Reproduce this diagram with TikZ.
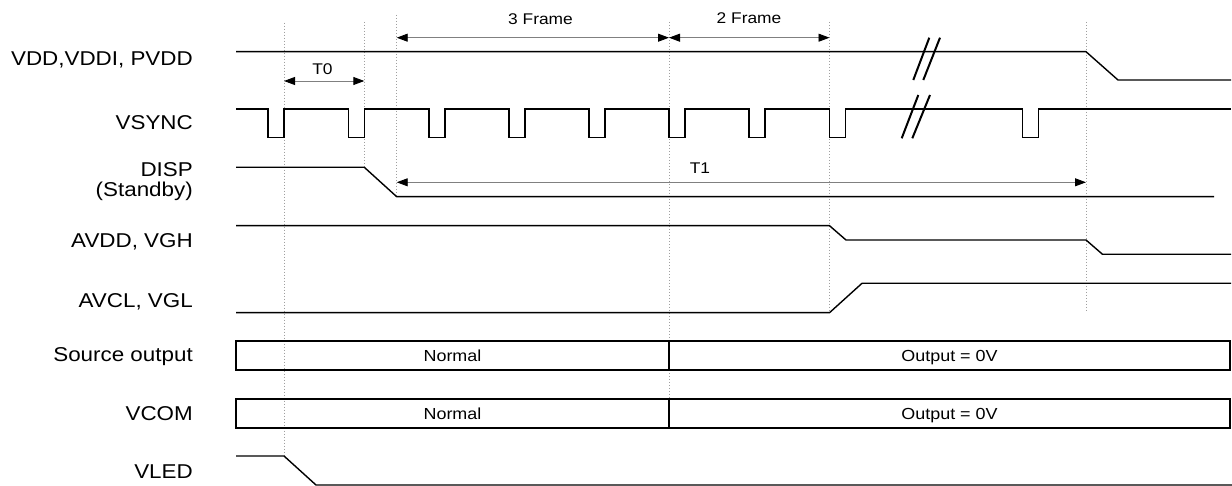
\documentclass[tikz,border=0pt]{standalone}
\usepackage{fontspec}
\setmainfont{Liberation Sans}[FakeStretch=1.12]
\usetikzlibrary{arrows.meta}
\begin{document}
\begin{tikzpicture}[x=1pt,y=-1pt,
  sig/.style={line width=1.4pt, black, line join=miter},
  slash/.style={line width=2pt, black},
  boxln/.style={line width=1.6pt, black},
  guide/.style={draw=gray!75, line width=0.9pt, dash pattern=on 1.4pt off 1.6pt},
  dimarrow/.style={{Triangle[length=11pt,width=8pt,black]}-{Triangle[length=11pt,width=8pt,black]}, draw=gray, line width=0.9pt},
  lbl/.style={font=\fontsize{20}{24}\selectfont, anchor=base east, inner sep=0pt},
  small/.style={font=\fontsize{15.5}{18}\selectfont, anchor=base, inner sep=0pt},
  boxtxt/.style={font=\fontsize{16}{19}\selectfont, anchor=base, inner sep=0pt}]
\useasboundingbox (0,0) rectangle (1232,486);

% signal labels
\node[lbl] (lvdd) at (193,66) {VDD,VDDI, PVDD};
\node[lbl] (lvs) at (193,130) {VSYNC};
\node[lbl] (ldisp) at (193,177) {DISP};
\node[lbl] (lstb) at (193,197) {(Standby)};
\node[lbl] (lavdd) at (193,248) {AVDD, VGH};
\node[lbl] (lavcl) at (193,308) {AVCL, VGL};
\node[lbl] (lsrc) at (193,362) {Source output};
\node[lbl] (lvcom) at (193,420) {VCOM};
\node[lbl] (lvled) at (193,478) {VLED};

% dotted guide lines
\coordinate (g1t) at (284,22.7);   \coordinate (g1b) at (284,456);
\coordinate (g2t) at (364.3,22);   \coordinate (g2b) at (364.3,167.3);
\coordinate (g3t) at (396.7,15);   \coordinate (g3b) at (396.7,196.7);
\coordinate (g4t) at (669,22);     \coordinate (g4b) at (669,399);
\coordinate (g5t) at (829.5,22);   \coordinate (g5b) at (829.5,312.7);
\coordinate (g6t) at (1086,22);    \coordinate (g6b) at (1086,312.7);
\foreach \i in {1,...,6} {\draw[guide] (g\i t) -- (g\i b);}

% VDD
\draw[sig] (236,51.7) -- (1086,51.7) -- (1118,80) -- (1231,80);
\draw[slash] (913.3,80) -- (929.3,37.7);
\draw[slash] (923.3,80) -- (940,37.7);

% VSYNC
\draw[sig] (236,109)
  foreach \f in {268,348.5,429,509,589,669,749,829.5,1022.5}
  { -- (\f,109) -- (\f,137.7) -- (\f+16,137.7) -- (\f+16,109) }
  -- (1231,109);
\draw[slash] (901.7,138.3) -- (918.3,95);
\draw[slash] (912.3,138.3) -- (930,95);

% DISP
\draw[sig] (236,167.3) -- (364.3,167.3) -- (396.7,196.7) -- (1214,196.7);
% AVDD, VGH
\draw[sig] (236,225.7) -- (829.5,225.7) -- (846,240) -- (1086,240) -- (1102.5,254.3) -- (1231,254.3);
% AVCL, VGL
\draw[sig] (236,312.7) -- (829.5,312.7) -- (862,283.3) -- (1231,283.3);

% Source output
\draw[boxln] (236,341) rectangle (1230,370);
\draw[boxln] (669,341) -- (669,370);
\node[boxtxt] (sn) at (452.5,361.5) {Normal};
\node[boxtxt] (so) at (949.5,361.5) {Output = 0V};
% VCOM
\draw[boxln] (236,399) rectangle (1230,427.7);
\draw[boxln] (669,399) -- (669,427.7);
\node[boxtxt] (vn) at (452.5,419.5) {Normal};
\node[boxtxt] (vo) at (949.5,419.5) {Output = 0V};

% VLED
\draw[sig] (236,456) -- (284,456) -- (316,485) -- (1232,485);

% dimension arrows
\coordinate (a3l) at (396.7,37.7); \coordinate (a3r) at (669,37.7);
\coordinate (a2l) at (669,37.7);   \coordinate (a2r) at (829.5,37.7);
\coordinate (t0l) at (284,81);     \coordinate (t0r) at (364.3,81);
\coordinate (t1l) at (396.7,182.3);\coordinate (t1r) at (1086,182.3);
\draw[dimarrow] (a3l) -- (a3r);
\draw[dimarrow] (a2l) -- (a2r);
\draw[dimarrow] (t0l) -- (t0r);
\draw[dimarrow] (t1l) -- (t1r);
\node[small] (f3) at (540.5,24.3) {3 Frame};
\node[small] (f2) at (749,24) {2 Frame};
\node[small] (t0) at (322.5,75) {T0};
\node[small] (t1) at (700,173.3) {T1};
\end{tikzpicture}
\end{document}
